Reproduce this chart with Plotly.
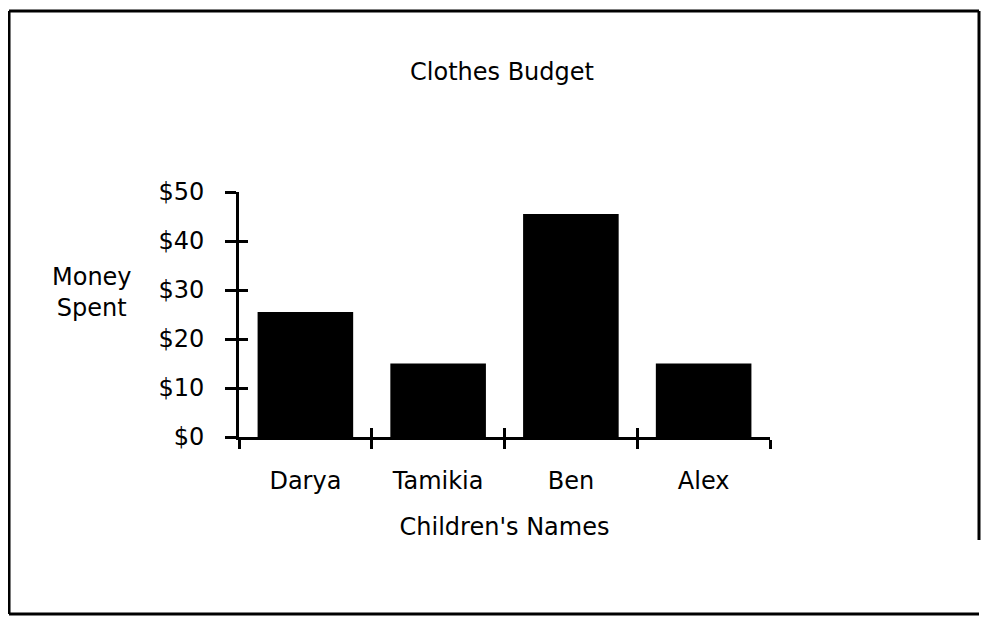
# Clothes budget bar chart
import plotly.graph_objects as go

names = ["Darya", "Tamikia", "Ben", "Alex"]
spent = [25.5, 15, 45.5, 15]
y_ticks = [0, 10, 20, 30, 40, 50]
y_labels = ["$0", "$10", "$20", "$30", "$40", "$50"]

FONT = "DejaVu Sans"
SIZE = 24

fig = go.Figure()

fig.add_trace(go.Bar(
    x=names,
    y=spent,
    marker=dict(color="black", line=dict(width=0)),
    hovertemplate="%{x}: $%{y}<extra></extra>",
))

# invisible copy on overlay axes, only so the inner half of each tick gets drawn
fig.add_trace(go.Scatter(
    x=names, y=spent, xaxis="x2", yaxis="y2",
    mode="markers", marker=dict(opacity=0), hoverinfo="skip", showlegend=False,
))

axis_common = dict(showgrid=False, zeroline=False, tickcolor="black", tickwidth=3)
border = dict(color="black", width=3)

fig.update_layout(
    width=989, height=618,
    margin=dict(l=231, r=227, t=184, b=189),
    paper_bgcolor="white", plot_bgcolor="white",
    font=dict(family=FONT, size=SIZE, color="black"),
    showlegend=False,
    bargap=0.28,
    title=dict(text="Clothes Budget", x=0.4995, y=0.8964, xref="container", yref="container",
               xanchor="center", yanchor="middle", font=dict(family=FONT, size=SIZE)),
    xaxis=dict(
        **axis_common,
        categoryorder="array", categoryarray=names, range=[-0.5, 3.5],
        tickson="boundaries", ticks="outside", ticklen=9,
        showline=True, linecolor="black", linewidth=3,
        ticklabelstandoff=20,
        title=dict(text="Children's Names", standoff=25, font=dict(size=SIZE)),
        automargin=False,
    ),
    yaxis=dict(
        **axis_common,
        range=[0, 50], tickvals=y_ticks, ticktext=y_labels,
        ticks="outside", ticklen=11,
        showline=True, linecolor="black", linewidth=3,
        ticklabelstandoff=16,
        automargin=False,
    ),
    xaxis2=dict(
        **axis_common, overlaying="x", anchor="y2",
        categoryorder="array", categoryarray=names, range=[-0.5, 3.5],
        tickson="boundaries", ticks="inside", ticklen=9,
        showline=False, showticklabels=False,
    ),
    yaxis2=dict(
        **axis_common, overlaying="y", anchor="x2", side="left",
        range=[0, 50], tickvals=y_ticks,
        ticks="inside", ticklen=9,
        showline=False, showticklabels=False,
    ),
    annotations=[dict(
        text="Money<br>Spent", x=-0.2768, y=0.5878, xref="paper", yref="paper",
        xanchor="center", yanchor="middle", showarrow=False,
        font=dict(family=FONT, size=SIZE),
    )],
    shapes=[
        # frame round the whole chart, right side fades out near the bottom
        dict(type="line", xref="paper", yref="paper", x0=-0.4331, x1=1.3936, y0=1.7388, y1=1.7388, line=border),
        dict(type="line", xref="paper", yref="paper", x0=-0.4331, x1=-0.4331, y0=-0.7224, y1=1.7388, line=border),
        dict(type="line", xref="paper", yref="paper", x0=-0.4331, x1=1.3936, y0=-0.7224, y1=-0.7224, line=border),
        dict(type="line", xref="paper", yref="paper", x0=1.3936, x1=1.3936, y0=-0.4204, y1=1.7388, line=border),
    ],
)

fig.write_html("out.html")
